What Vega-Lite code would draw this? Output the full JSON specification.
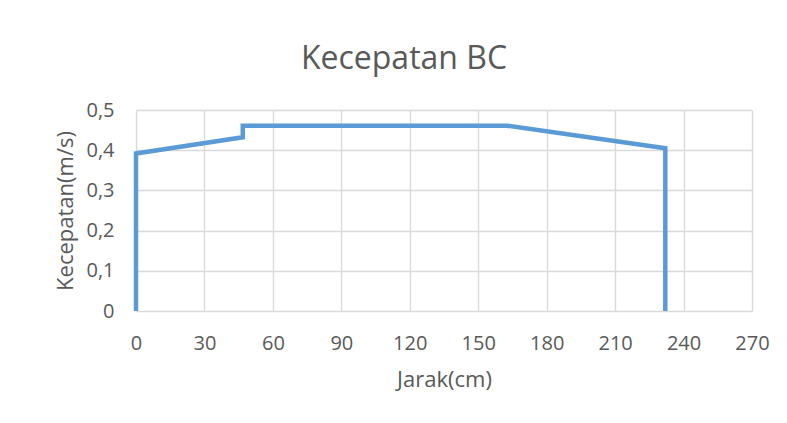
{
  "$schema": "https://vega.github.io/schema/vega-lite/v6.json",
  "autosize": {"type": "none"},
  "width": 616,
  "height": 201,
  "padding": {"left": 136, "top": 110, "right": 35, "bottom": 112},
  "background": "white",
  "title": {
    "text": "Kecepatan BC",
    "font": "Open Sans",
    "fontSize": 32,
    "fontWeight": "normal",
    "color": "#595959",
    "anchor": "middle",
    "frame": "group",
    "dx": -40,
    "offset": 24
  },
  "config": {
    "view": {"stroke": null},
    "axis": {
      "labelFont": "Open Sans",
      "titleFont": "Open Sans",
      "labelColor": "#595959",
      "titleColor": "#595959",
      "titleFontWeight": "normal",
      "gridColor": "#D9D9D9",
      "gridWidth": 1.4,
      "domain": false,
      "ticks": false
    }
  },
  "data": {
    "values": [
      {"i": 1, "jarak": 0, "v": 0},
      {"i": 2, "jarak": 0, "v": 0.392},
      {"i": 3, "jarak": 46.8, "v": 0.432},
      {"i": 4, "jarak": 46.8, "v": 0.461},
      {"i": 5, "jarak": 162.6, "v": 0.461},
      {"i": 6, "jarak": 232, "v": 0.405},
      {"i": 7, "jarak": 232, "v": 0}
    ]
  },
  "mark": {"type": "line", "color": "#5B9BD5", "strokeWidth": 4.5, "strokeJoin": "miter", "strokeCap": "butt"},
  "encoding": {
    "x": {
      "field": "jarak",
      "type": "quantitative",
      "scale": {"domain": [0, 270], "nice": false, "zero": false},
      "axis": {
        "title": "Jarak(cm)",
        "values": [0, 30, 60, 90, 120, 150, 180, 210, 240, 270],
        "labelFontSize": 20,
        "labelPadding": 22,
        "titleFontSize": 22,
        "titlePadding": 16,
        "labelFlush": false
      }
    },
    "y": {
      "field": "v",
      "type": "quantitative",
      "scale": {"domain": [0, 0.5], "nice": false},
      "axis": {
        "title": "Kecepatan(m/s)",
        "values": [0, 0.1, 0.2, 0.3, 0.4, 0.5],
        "labelExpr": "datum.value == 0 ? '0' : replace(format(datum.value, '.1f'), '.', ',')",
        "labelFontSize": 20,
        "labelPadding": 22,
        "titleFontSize": 22,
        "titlePadding": 8
      }
    },
    "order": {"field": "i", "type": "quantitative"}
  }
}
